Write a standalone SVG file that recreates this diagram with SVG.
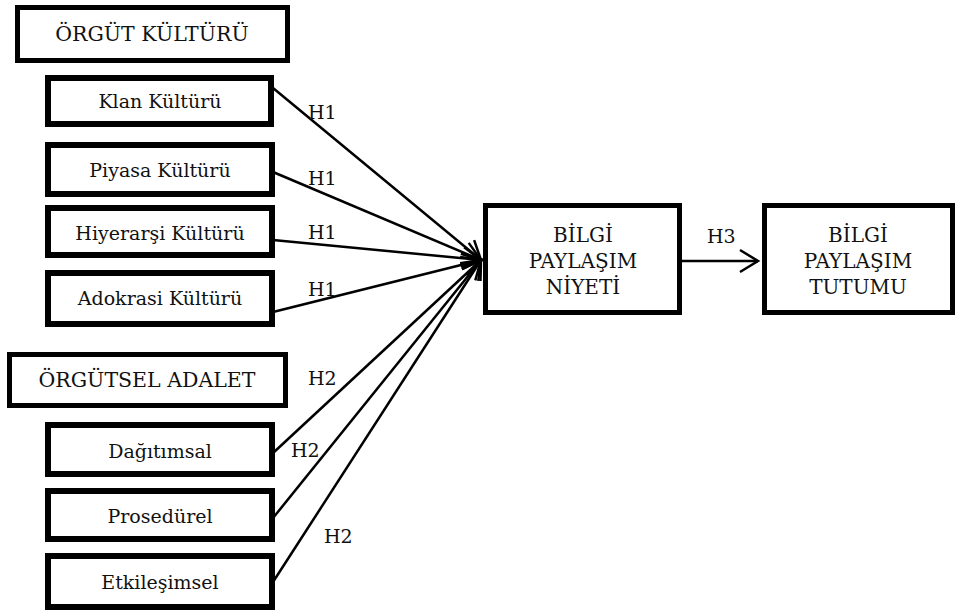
<svg xmlns="http://www.w3.org/2000/svg" width="958" height="611" viewBox="0 0 958 611">
<style>
.box{fill:#fff;stroke:#000;stroke-width:6}
.big{fill:#fff;stroke:#000;stroke-width:5}
text{font-family:'DejaVu Serif','Liberation Serif',serif;font-size:19px;fill:#111}
.t{text-anchor:middle}
.l{font-size:20.5px}
.m{font-size:20px}
.c{fill:none;stroke:#000;stroke-width:2.5}
</style>
<defs>
<marker id="ah" markerUnits="userSpaceOnUse" markerWidth="24" markerHeight="26" refX="19" refY="12" orient="auto" viewBox="0 0 24 24">
<path d="M1,1 L19,12 L1,23" fill="none" stroke="#000" stroke-width="2.5"/>
</marker>
</defs>
<rect width="958" height="611" fill="#fff"/>
<g id="connectors">
<line class="c" x1="273" y1="88" x2="481" y2="260" marker-end="url(#ah)"/>
<line class="c" x1="273" y1="172" x2="481" y2="260" marker-end="url(#ah)"/>
<line class="c" x1="273" y1="240" x2="481" y2="260" marker-end="url(#ah)"/>
<line class="c" x1="273" y1="312" x2="481" y2="260" marker-end="url(#ah)"/>
<line class="c" x1="273" y1="453" x2="481" y2="260" marker-end="url(#ah)"/>
<line class="c" x1="273" y1="518" x2="481" y2="260" marker-end="url(#ah)"/>
<line class="c" x1="273" y1="582" x2="481" y2="260" marker-end="url(#ah)"/>
<line class="c" x1="682" y1="261" x2="758" y2="261" marker-end="url(#ah)"/>
<text x="308" y="119">H1</text>
<text x="308" y="185">H1</text>
<text x="308" y="239">H1</text>
<text x="308" y="296">H1</text>
<text x="308" y="385">H2</text>
<text x="291" y="457">H2</text>
<text x="324" y="543">H2</text>
<text x="707" y="243">H3</text>
</g>
<g id="orgut-kulturu"><rect class="big" x="17.5" y="7.5" width="270" height="53"/><text class="t l" x="152" y="41">ÖRGÜT KÜLTÜRÜ</text></g>
<g id="klan"><rect class="box" x="48" y="78" width="223" height="46"/><text class="t" x="160" y="108">Klan Kültürü</text></g>
<g id="piyasa"><rect class="box" x="48" y="145" width="224" height="49"/><text class="t" x="160" y="177">Piyasa Kültürü</text></g>
<g id="hiyerarsi"><rect class="box" x="48" y="208" width="224" height="47"/><text class="t" x="160" y="240">Hiyerarşi Kültürü</text></g>
<g id="adokrasi"><rect class="box" x="48" y="273" width="224" height="51"/><text class="t" x="160" y="305">Adokrasi Kültürü</text></g>
<g id="orgutsel-adalet"><rect class="big" x="9.5" y="354.5" width="276" height="51"/><text class="t l" x="147" y="387">ÖRGÜTSEL ADALET</text></g>
<g id="dagitimsal"><rect class="box" x="48" y="425" width="224" height="49"/><text class="t" x="160" y="458">Dağıtımsal</text></g>
<g id="prosedurel"><rect class="box" x="48" y="491" width="224" height="48"/><text class="t" x="160" y="523">Prosedürel</text></g>
<g id="etkilesimsel"><rect class="box" x="48" y="556" width="224" height="51"/><text class="t" x="160" y="589">Etkileşimsel</text></g>
<g id="niyet"><rect class="big" x="485.5" y="205.5" width="194" height="107"/><text class="t m" x="583" y="242">BİLGİ</text><text class="t m" x="583" y="268">PAYLAŞIM</text><text class="t m" x="583" y="294">NİYETİ</text></g>
<g id="tutum"><rect class="big" x="764.5" y="205.5" width="188" height="107"/><text class="t m" x="858" y="242">BİLGİ</text><text class="t m" x="858" y="268">PAYLAŞIM</text><text class="t m" x="858" y="294">TUTUMU</text></g>
</svg>
